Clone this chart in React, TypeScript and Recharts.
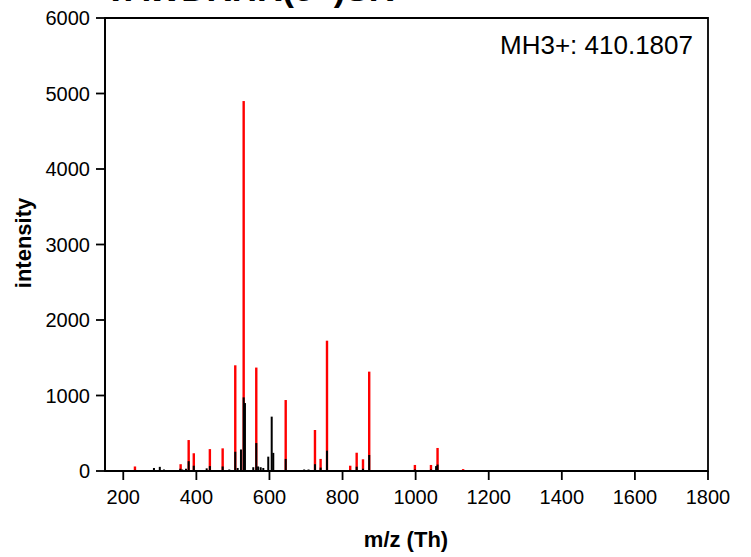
import React from 'react';
import { ComposedChart, Bar, XAxis, YAxis, ReferenceArea } from 'recharts';

// matched (annotated) peaks, drawn red
const matchedMz = [232, 357, 379, 393, 437, 472, 506.5, 529.5, 564, 644.5, 724.6, 740, 757.5, 821, 838.7, 856, 873, 998, 1042, 1060, 1130];
const matchedIntensity = [60, 90, 410, 235, 290, 300, 1400, 4900, 1370, 940, 543, 160, 1726, 70, 242, 155, 1316, 80, 80, 305, 25];

// measured peaks, drawn black on top
const measuredMz = [232, 284, 300, 311.4, 356, 361.5, 371.6, 379, 393, 428.3, 437, 472, 490.1, 506.5, 513.1, 522.1, 529.5, 533, 555.8, 564, 569, 576, 583.2, 596.8, 606.2, 610.5, 644.5, 695, 707, 724.6, 740, 757.5, 821, 838.7, 856, 873, 998, 1042, 1056, 1060];
const measuredIntensity = [15, 40, 55, 20, 30, 20, 30, 130, 70, 35, 65, 60, 20, 255, 40, 285, 975, 900, 50, 370, 60, 50, 40, 190, 720, 240, 160, 20, 20, 90, 45, 270, 15, 57, 30, 212, 20, 20, 65, 85];

const xTicks = [200, 400, 600, 800, 1000, 1200, 1400, 1600, 1800];
const yTicks = [0, 1000, 2000, 3000, 4000, 5000, 6000];

const allMz = Array.from(new Set([...matchedMz, ...measuredMz])).sort((a, b) => a - b);
const table = allMz.map((mz) => {
  const i = matchedMz.indexOf(mz);
  const j = measuredMz.indexOf(mz);
  return {
    mz,
    matched: i >= 0 ? matchedIntensity[i] : null,
    measured: j >= 0 ? measuredIntensity[j] : null,
  };
});

const font = 'Arial, "Liberation Sans", sans-serif';

const stick = (color: string, w: number) => (props: any) => {
  const { x, y, width, height } = props;
  if (height == null || !(height > 0)) return <g />;
  return <rect x={x + width / 2 - w / 2} y={y} width={w} height={height} fill={color} />;
};

export default function App() {
  return (
    <div style={{ position: 'absolute', left: 0, top: 0, width: 751, height: 557, overflow: 'hidden', background: '#fff', fontFamily: font }}>
      <ComposedChart width={751} height={557} data={table} margin={{ top: 18, right: 43, left: 40, bottom: 0 }}>
        <XAxis
          xAxisId="main"
          type="number"
          dataKey="mz"
          domain={[150, 1800]}
          ticks={xTicks}
          height={86}
          tickSize={9}
          tickMargin={10}
          stroke="#000"
          strokeWidth={1.8}
          tick={{ fill: '#000', fontSize: 20, fontFamily: font }}
        />
        <XAxis xAxisId="over" type="number" dataKey="mz" domain={[150, 1800]} hide />
        <YAxis
          type="number"
          domain={[0, 6000]}
          ticks={yTicks}
          width={65}
          tickSize={9}
          tickMargin={6}
          stroke="#000"
          strokeWidth={1.8}
          tick={{ fill: '#000', fontSize: 20, fontFamily: font }}
        />
        <ReferenceArea xAxisId="main" x1={150} x2={1800} y1={0} y2={6000} fill="none" stroke="#000" strokeWidth={1.8} />
        <Bar xAxisId="main" dataKey="matched" barSize={2} shape={stick('#ff0000', 2.4)} isAnimationActive={false} />
        <Bar xAxisId="over" dataKey="measured" barSize={2} shape={stick('#000000', 2)} isAnimationActive={false} />
      </ComposedChart>
      <div style={{ position: 'absolute', left: 104, top: -31, fontSize: 35, fontWeight: 'bold', whiteSpace: 'nowrap' }}>VAWDRHR(3+)SR</div>
      <div style={{ position: 'absolute', right: 58, top: 30, fontSize: 26, whiteSpace: 'nowrap' }}>MH3+: 410.1807</div>
      <div style={{ position: 'absolute', left: 406, top: 527, transform: 'translateX(-50%)', fontSize: 22, fontWeight: 'bold', whiteSpace: 'nowrap' }}>m/z (Th)</div>
      <div style={{ position: 'absolute', left: 24, top: 243, transform: 'translate(-50%, -50%) rotate(-90deg)', fontSize: 22, fontWeight: 'bold', whiteSpace: 'nowrap' }}>intensity</div>
    </div>
  );
}
